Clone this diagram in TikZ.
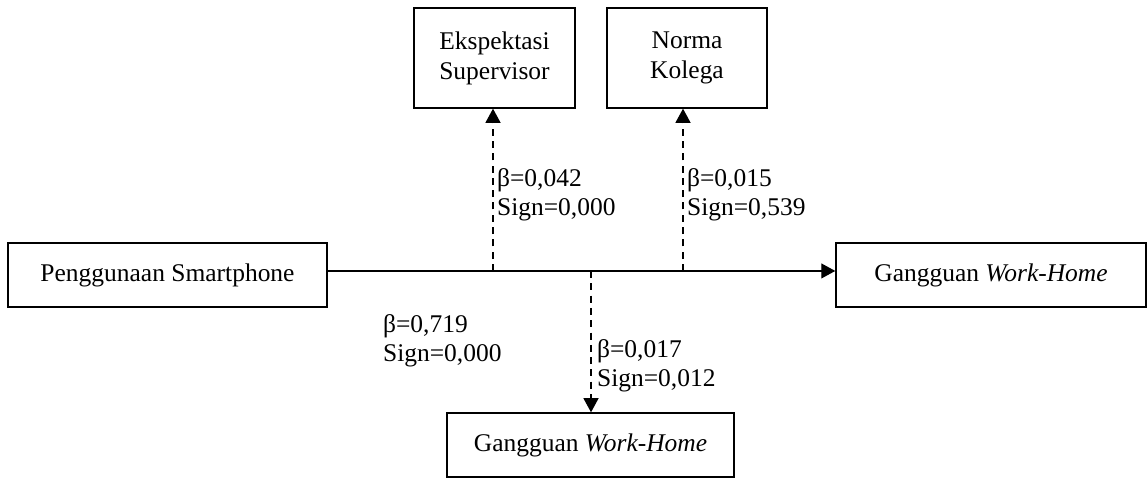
\documentclass[tikz,border=0pt]{standalone}
\usepackage{fontspec}
\setmainfont{Liberation Serif}
\usetikzlibrary{arrows.meta,positioning}
\tikzset{var/.style ={
        draw=black,
        line width=0.8pt,
        align=center,
        inner sep=0pt,
        font=\fontsize{14.5}{17}\selectfont
    },
    txt/.style ={
        anchor=west,
        align=left,
        inner sep=1pt,
        font=\fontsize{14.5}{16.5}\selectfont
    },
    direct/.style ={
        draw,
        line width=0.8pt,
        -{Triangle[length=8pt,width=8.5pt]}
    },
    moder/.style ={
        draw,
        line width=0.8pt,
        dash pattern=on 4pt off 3pt,
        -{Triangle[length=8pt,width=8.5pt]}
    }}
\begin{document}
\begin{tikzpicture}
	\useasboundingbox (0,0) rectangle (22.96,9.58);
	% boxes
	\node[var, minimum width=6.38cm, minimum height=1.28cm] (smart) at (3.35,4.08) {Penggunaan Smartphone};
	\node[var, minimum width=6.2cm, minimum height=1.28cm] (wh) at (19.82,4.08) {Gangguan \textit{Work-Home}};
	\node[var, minimum width=3.22cm, minimum height=2cm] (es) at (9.89,8.42) {Ekspektasi\\Supervisor};
	\node[var, minimum width=3.2cm, minimum height=2cm] (nk) at (13.74,8.42) {Norma\\Kolega};
	\node[var, minimum width=5.74cm, minimum height=1.28cm] (whb) at (11.81,0.68) {Gangguan \textit{Work-Home}};
	% points on the main path
	\coordinate (j1) at (9.86,4.16);
	\coordinate (j2) at (13.66,4.16);
	\coordinate (j3) at (11.82,4.16);
	% connectors
	\path[direct] ([yshift=2.3pt]smart.east) -- ([yshift=2.3pt]wh.west);
	\path[moder] (j1) -- (j1 |- es.south);
	\path[moder] (j2) -- (j2 |- nk.south);
	\path[moder] (j3) -- (j3 |- whb.north);
	% coefficients
	\node[txt] (l1) at (7.62,2.76) {β=0,719\\Sign=0,000};
	\node[txt] (l2) at (9.9,5.68) {β=0,042\\Sign=0,000};
	\node[txt] (l3) at (13.7,5.68) {β=0,015\\Sign=0,539};
	\node[txt] (l4) at (11.9,2.26) {β=0,017\\Sign=0,012};
\end{tikzpicture}
\end{document}
